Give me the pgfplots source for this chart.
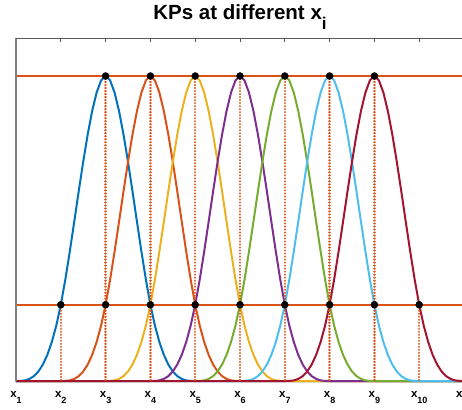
\documentclass[border=0pt]{standalone}
\usepackage{fontspec}
\setmainfont{Liberation Sans}
\usepackage{pgfplots}
\pgfplotsset{compat=1.18}

\definecolor{mblue}{RGB}{0,114,189}
\definecolor{morange}{RGB}{217,83,25}
\definecolor{myellow}{RGB}{237,177,32}
\definecolor{mpurple}{RGB}{126,47,142}
\definecolor{mgreen}{RGB}{119,172,48}
\definecolor{mcyan}{RGB}{77,190,238}
\definecolor{mred}{RGB}{162,20,47}

% tick label x_k, subscript set lower like MATLAB does
\newcommand{\xl}[1]{x\raisebox{-6pt}{\fontsize{9}{9}\selectfont #1}}

\begin{document}
\begin{tikzpicture}
\begin{axis}[
    at={(0,0)}, anchor=south west,
    scale only axis, width=448pt, height=343pt,
    xmin=1, xmax=11, ymin=0, ymax=1.1246,
    clip=false,
    axis line style={draw=none},
    xtick={1,...,11},
    xticklabels={\xl{1},\xl{2},\xl{3},\xl{4},\xl{5},\xl{6},\xl{7},\xl{8},\xl{9},\xl{10},\xl{11}},
    xtick pos=right, xticklabel pos=left,
    tick align=inside,
    major tick length=4pt,
    tick style={color=black!65, line width=0.8pt},
    ytick=\empty,
    xticklabel style={font=\bfseries\fontsize{11.5}{12}\selectfont, anchor=base, yshift=-16pt},
    title={KPs at different x\raisebox{-10pt}{\fontsize{17}{17}\selectfont i}},
    every axis title/.style={at={(0.5,1)}, anchor=base, yshift=18pt,
        font=\bfseries\fontsize{20.5}{24}\selectfont},
    kp/.style={line width=2pt},
    drop/.style={color=morange, line width=2.3pt, line cap=round, dash pattern=on 0.01pt off 3pt},
]
% kernel curves (peak at x_k, support x_{k-2}..x_{k+2})
\addplot[kp, mblue] coordinates {
(1,0)(1.1,0.00025)(1.2,0.002)(1.3,0.00675)(1.4,0.016)(1.5,0.03125)(1.6,0.054)(1.7,0.08575)(1.8,0.128)(1.9,0.18225)
(2,0.25)(2.1,0.33175)(2.2,0.424)(2.3,0.52225)(2.4,0.622)(2.5,0.71875)(2.6,0.808)(2.7,0.88525)(2.8,0.946)(2.9,0.98575)
(3,1)(3.1,0.98575)(3.2,0.946)(3.3,0.88525)(3.4,0.808)(3.5,0.71875)(3.6,0.622)(3.7,0.52225)(3.8,0.424)(3.9,0.33175)
(4,0.25)(4.1,0.18225)(4.2,0.128)(4.3,0.08575)(4.4,0.054)(4.5,0.03125)(4.6,0.016)(4.7,0.00675)(4.8,0.002)(4.9,0.00025)
(5,0)(11,0)};
\addplot[kp, morange] coordinates {
(1,0)
(2,0)(2.1,0.00025)(2.2,0.002)(2.3,0.00675)(2.4,0.016)(2.5,0.03125)(2.6,0.054)(2.7,0.08575)(2.8,0.128)(2.9,0.18225)
(3,0.25)(3.1,0.33175)(3.2,0.424)(3.3,0.52225)(3.4,0.622)(3.5,0.71875)(3.6,0.808)(3.7,0.88525)(3.8,0.946)(3.9,0.98575)
(4,1)(4.1,0.98575)(4.2,0.946)(4.3,0.88525)(4.4,0.808)(4.5,0.71875)(4.6,0.622)(4.7,0.52225)(4.8,0.424)(4.9,0.33175)
(5,0.25)(5.1,0.18225)(5.2,0.128)(5.3,0.08575)(5.4,0.054)(5.5,0.03125)(5.6,0.016)(5.7,0.00675)(5.8,0.002)(5.9,0.00025)
(6,0)(11,0)};
\addplot[kp, myellow] coordinates {
(1,0)
(3,0)(3.1,0.00025)(3.2,0.002)(3.3,0.00675)(3.4,0.016)(3.5,0.03125)(3.6,0.054)(3.7,0.08575)(3.8,0.128)(3.9,0.18225)
(4,0.25)(4.1,0.33175)(4.2,0.424)(4.3,0.52225)(4.4,0.622)(4.5,0.71875)(4.6,0.808)(4.7,0.88525)(4.8,0.946)(4.9,0.98575)
(5,1)(5.1,0.98575)(5.2,0.946)(5.3,0.88525)(5.4,0.808)(5.5,0.71875)(5.6,0.622)(5.7,0.52225)(5.8,0.424)(5.9,0.33175)
(6,0.25)(6.1,0.18225)(6.2,0.128)(6.3,0.08575)(6.4,0.054)(6.5,0.03125)(6.6,0.016)(6.7,0.00675)(6.8,0.002)(6.9,0.00025)
(7,0)(11,0)};
\addplot[kp, mpurple] coordinates {
(1,0)
(4,0)(4.1,0.00025)(4.2,0.002)(4.3,0.00675)(4.4,0.016)(4.5,0.03125)(4.6,0.054)(4.7,0.08575)(4.8,0.128)(4.9,0.18225)
(5,0.25)(5.1,0.33175)(5.2,0.424)(5.3,0.52225)(5.4,0.622)(5.5,0.71875)(5.6,0.808)(5.7,0.88525)(5.8,0.946)(5.9,0.98575)
(6,1)(6.1,0.98575)(6.2,0.946)(6.3,0.88525)(6.4,0.808)(6.5,0.71875)(6.6,0.622)(6.7,0.52225)(6.8,0.424)(6.9,0.33175)
(7,0.25)(7.1,0.18225)(7.2,0.128)(7.3,0.08575)(7.4,0.054)(7.5,0.03125)(7.6,0.016)(7.7,0.00675)(7.8,0.002)(7.9,0.00025)
(8,0)(11,0)};
\addplot[kp, mgreen] coordinates {
(1,0)
(5,0)(5.1,0.00025)(5.2,0.002)(5.3,0.00675)(5.4,0.016)(5.5,0.03125)(5.6,0.054)(5.7,0.08575)(5.8,0.128)(5.9,0.18225)
(6,0.25)(6.1,0.33175)(6.2,0.424)(6.3,0.52225)(6.4,0.622)(6.5,0.71875)(6.6,0.808)(6.7,0.88525)(6.8,0.946)(6.9,0.98575)
(7,1)(7.1,0.98575)(7.2,0.946)(7.3,0.88525)(7.4,0.808)(7.5,0.71875)(7.6,0.622)(7.7,0.52225)(7.8,0.424)(7.9,0.33175)
(8,0.25)(8.1,0.18225)(8.2,0.128)(8.3,0.08575)(8.4,0.054)(8.5,0.03125)(8.6,0.016)(8.7,0.00675)(8.8,0.002)(8.9,0.00025)
(9,0)(11,0)};
\addplot[kp, mcyan] coordinates {
(1,0)
(6,0)(6.1,0.00025)(6.2,0.002)(6.3,0.00675)(6.4,0.016)(6.5,0.03125)(6.6,0.054)(6.7,0.08575)(6.8,0.128)(6.9,0.18225)
(7,0.25)(7.1,0.33175)(7.2,0.424)(7.3,0.52225)(7.4,0.622)(7.5,0.71875)(7.6,0.808)(7.7,0.88525)(7.8,0.946)(7.9,0.98575)
(8,1)(8.1,0.98575)(8.2,0.946)(8.3,0.88525)(8.4,0.808)(8.5,0.71875)(8.6,0.622)(8.7,0.52225)(8.8,0.424)(8.9,0.33175)
(9,0.25)(9.1,0.18225)(9.2,0.128)(9.3,0.08575)(9.4,0.054)(9.5,0.03125)(9.6,0.016)(9.7,0.00675)(9.8,0.002)(9.9,0.00025)
(10,0)(11,0)};
\addplot[kp, mred] coordinates {
(1,0)
(7,0)(7.1,0.00025)(7.2,0.002)(7.3,0.00675)(7.4,0.016)(7.5,0.03125)(7.6,0.054)(7.7,0.08575)(7.8,0.128)(7.9,0.18225)
(8,0.25)(8.1,0.33175)(8.2,0.424)(8.3,0.52225)(8.4,0.622)(8.5,0.71875)(8.6,0.808)(8.7,0.88525)(8.8,0.946)(8.9,0.98575)
(9,1)(9.1,0.98575)(9.2,0.946)(9.3,0.88525)(9.4,0.808)(9.5,0.71875)(9.6,0.622)(9.7,0.52225)(9.8,0.424)(9.9,0.33175)
(10,0.25)(10.1,0.18225)(10.2,0.128)(10.3,0.08575)(10.4,0.054)(10.5,0.03125)(10.6,0.016)(10.7,0.00675)(10.8,0.002)(10.9,0.00025)
(11,0)};
% reference levels
\addplot[kp, morange] coordinates {(1,1)(11,1)};
\addplot[kp, morange] coordinates {(1,0.25)(11,0.25)};
% dotted drop lines
\addplot[drop] coordinates {(2,0.25)(2,0)};
\addplot[drop] coordinates {(3,1)(3,0)};
\addplot[drop] coordinates {(4,1)(4,0)};
\addplot[drop] coordinates {(5,1)(5,0)};
\addplot[drop] coordinates {(6,1)(6,0)};
\addplot[drop] coordinates {(7,1)(7,0)};
\addplot[drop] coordinates {(8,1)(8,0)};
\addplot[drop] coordinates {(9,1)(9,0)};
\addplot[drop] coordinates {(10,0.25)(10,0)};
% knot points
\addplot[only marks, mark=*, mark size=3.5pt, black] coordinates {
(3,1)(4,1)(5,1)(6,1)(7,1)(8,1)(9,1)
(2,0.25)(3,0.25)(4,0.25)(5,0.25)(6,0.25)(7,0.25)(8,0.25)(9,0.25)(10,0.25)};
% spines: left and top only
\draw[black!50, line width=1.2pt] (rel axis cs:0,0) -- (rel axis cs:0,1);
\draw[black!65, line width=0.8pt] (rel axis cs:0,1) -- (rel axis cs:1,1);
\end{axis}
\pgfresetboundingbox
\useasboundingbox (-16pt,-28pt) rectangle (446pt,381pt);
\end{tikzpicture}
\end{document}
